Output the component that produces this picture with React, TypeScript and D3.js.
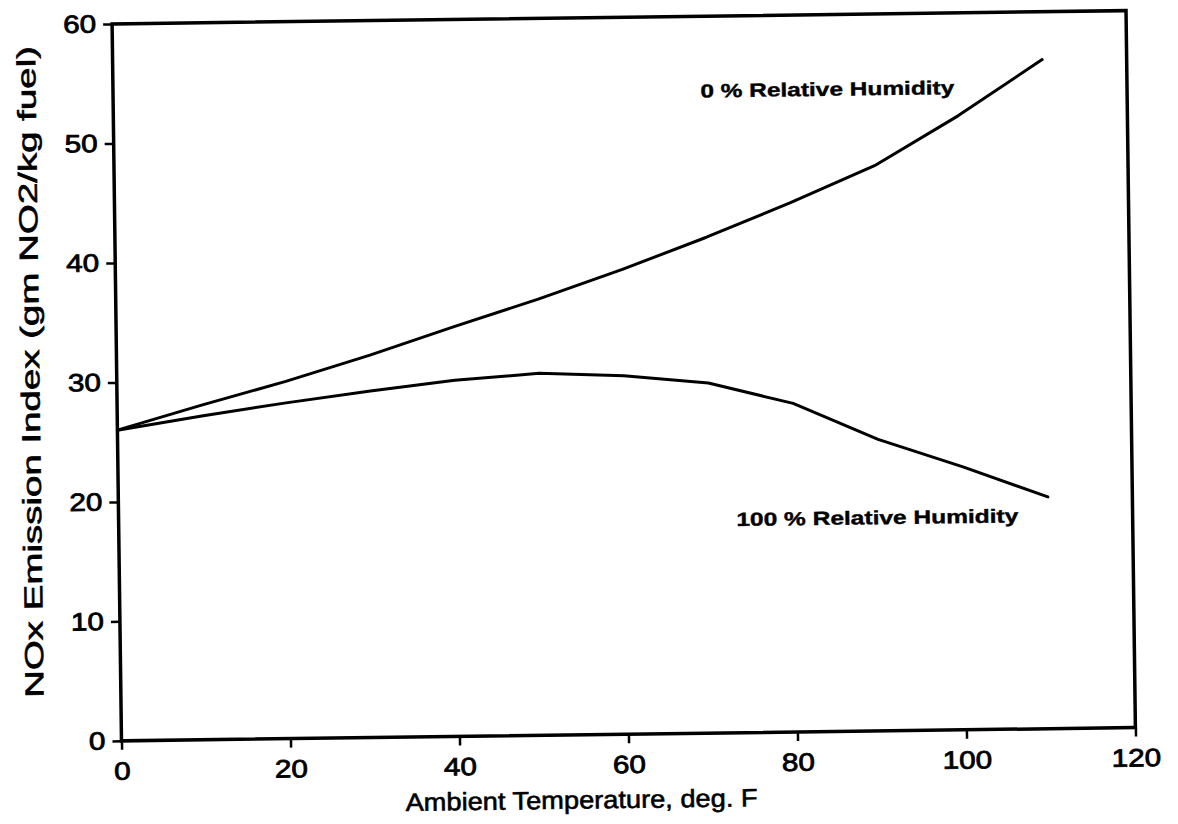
import * as d3 from 'd3';
import React, { useEffect, useRef } from 'react';

// Ambient temperature (deg F) and NOx emission index (gm NO2/kg fuel)
const tempF = [0, 10, 20, 30, 40, 50, 60, 70, 80, 90, 100, 110];
const noxDryAir = [26, 28, 29.9, 32, 34.3, 36.5, 38.9, 41.5, 44.3, 47.3, 51.4, 56];
const noxHumidAir = [26, 27.1, 28.1, 29.0, 29.8, 30.3, 30.0, 29.3, 27.5, 24.4, 22.0, 19.4];

const xTicks = [0, 20, 40, 60, 80, 100, 120];
const yTicks = [0, 10, 20, 30, 40, 50, 60];

const seriesNames = ['0 % Relative Humidity', '100 % Relative Humidity'];

export default function App() {
    const svgRef = useRef(null);
    const width = 1178;
    const height = 824;

    useEffect(() => {
        if (!svgRef.current) return;
        const svg = d3.select(svgRef.current);
        svg.selectAll('*').remove();

        const marginLeft = 116.75;
        const marginRight = 1130.75;
        const marginTop = 17.25;
        const marginBottom = 734.25;
        const font = '"Liberation Sans", Arial, sans-serif';

        const x = d3.scaleLinear().domain([0, 120]).range([marginLeft, marginRight]);
        const y = d3.scaleLinear().domain([0, 60]).range([marginBottom, marginTop]);

        svg.append('rect').attr('width', width).attr('height', height).attr('fill', '#fff');

        // the scanned page is slightly tilted
        const g = svg.append('g')
            .attr('transform', `rotate(-0.75, ${(marginLeft + marginRight) / 2}, ${(marginTop + marginBottom) / 2})`);

        // x axis
        g.append('g')
            .attr('transform', `translate(0,${y(0)})`)
            .call(d3.axisBottom(x).tickValues(xTicks).tickSize(9).tickPadding(12).tickSizeOuter(0))
            .call(a => a.select('.domain').remove())
            .call(a => a.selectAll('line').attr('stroke', '#000').attr('stroke-width', 2.5))
            .call(a => a.selectAll('text')
                .attr('fill', '#000')
                .attr('stroke', '#000')
                .attr('stroke-width', 0.8)
                .style('font-family', font)
                .style('font-size', '25px')
                .attr('textLength', d => String(d).length * 16.5)
                .attr('lengthAdjust', 'spacingAndGlyphs'));

        // y axis
        g.append('g')
            .attr('transform', `translate(${x(0)},0)`)
            .call(d3.axisLeft(y).tickValues(yTicks).tickSize(9).tickPadding(7).tickSizeOuter(0))
            .call(a => a.select('.domain').remove())
            .call(a => a.selectAll('line').attr('stroke', '#000').attr('stroke-width', 2.5))
            .call(a => a.selectAll('text')
                .attr('fill', '#000')
                .attr('stroke', '#000')
                .attr('stroke-width', 0.8)
                .style('font-family', font)
                .style('font-size', '25px')
                .attr('textLength', d => String(d).length * 16.5)
                .attr('lengthAdjust', 'spacingAndGlyphs'));

        // frame
        g.append('rect')
            .attr('x', x(0))
            .attr('y', y(60))
            .attr('width', x(120) - x(0))
            .attr('height', y(0) - y(60))
            .attr('fill', 'none')
            .attr('stroke', '#000')
            .attr('stroke-width', 3.5);

        const line = d3.line()
            .x(d => x(d[0]))
            .y(d => y(d[1]));

        [noxDryAir, noxHumidAir].forEach(values => {
            g.append('path')
                .datum(tempF.map((t, i) => [t, values[i]]))
                .attr('fill', 'none')
                .attr('stroke', '#000')
                .attr('stroke-width', 3)
                .attr('stroke-linejoin', 'round')
                .attr('stroke-linecap', 'round')
                .attr('d', line);
        });

        // curve labels
        const labelAt = [[69.5, 53.2, 254], [73.1, 17.3, 282]];
        seriesNames.forEach((name, i) => {
            g.append('text')
                .attr('x', x(labelAt[i][0]))
                .attr('y', y(labelAt[i][1]))
                .attr('textLength', labelAt[i][2])
                .attr('lengthAdjust', 'spacingAndGlyphs')
                .style('font-family', font)
                .style('font-size', '19px')
                .style('font-weight', 'bold')
                .attr('fill', '#000')
                .attr('stroke', '#000')
                .attr('stroke-width', 0.4)
                .text(name);
        });

        // axis titles
        g.append('text')
            .attr('x', 576)
            .attr('y', 808)
            .attr('text-anchor', 'middle')
            .attr('textLength', 352)
            .attr('lengthAdjust', 'spacingAndGlyphs')
            .attr('stroke', '#000')
            .attr('stroke-width', 0.6)
            .style('font-family', font)
            .style('font-size', '25px')
            .text('Ambient Temperature, deg. F');

        g.append('text')
            .attr('transform', `translate(39.4,364.2) rotate(-90)`)
            .attr('text-anchor', 'middle')
            .attr('textLength', 652)
            .attr('lengthAdjust', 'spacingAndGlyphs')
            .attr('stroke', '#000')
            .attr('stroke-width', 0.6)
            .style('font-family', font)
            .style('font-size', '26px')
            .text('NOx Emission Index (gm NO2/kg fuel)');
    }, []);

    return (
        <svg
            ref={svgRef}
            width={width}
            height={height}
            style={{ position: 'absolute', top: 0, left: 0, display: 'block' }}
        ></svg>
    );
}
